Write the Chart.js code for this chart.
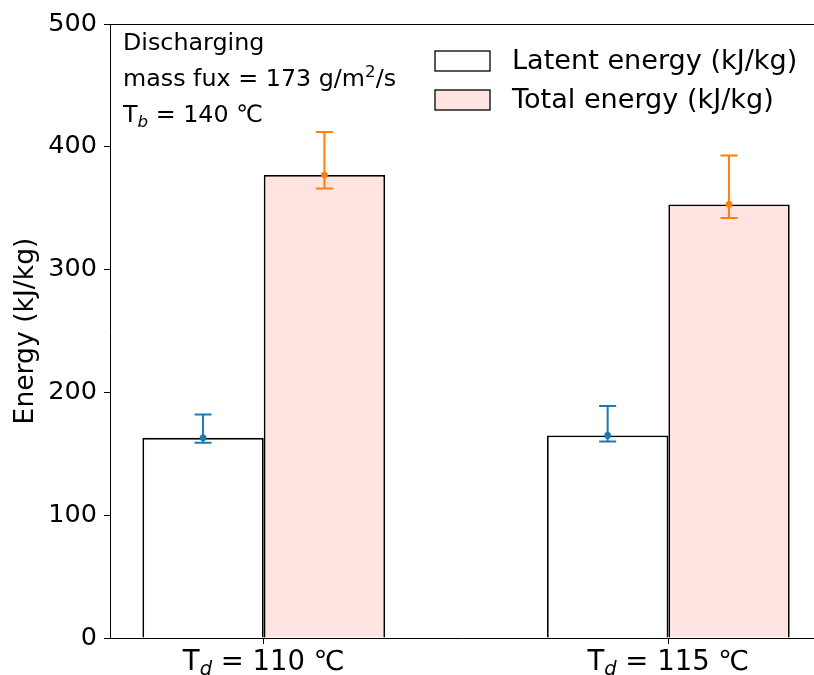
<!DOCTYPE html>
<html>
<head>
<meta charset="utf-8">
<script src="https://cdn.jsdelivr.net/npm/chart.js@4.4.1/dist/chart.umd.min.js"></script>
<style>
  html, body { margin: 0; padding: 0; background: #fff; }
  #wrap { width: 814px; height: 675px; }
</style>
</head>
<body>
<div id="wrap"><canvas id="energyChart" width="814" height="675"></canvas></div>
<script>
// discharge temperatures T_d (°C), one bar group each
const tempValues = [110, 115];
const tempLabels = ['110 \u2103', '115 \u2103'];

// latent energy, kJ/kg, with error bar limits
const latentEnergy = [163, 165];
const latentLow = [159, 160];
const latentHigh = [182, 189];

// total energy, kJ/kg, with error bar limits
const totalEnergy = [377, 353];
const totalLow = [366, 342];
const totalHigh = [412, 393];

const yTicks = [0, 100, 200, 300, 400, 500];

const FONT = '"DejaVu Sans", sans-serif';

function points(values) {
    return values.map((v, i) => ({ x: i, y: v }));
}

// draw a run of text pieces (normal / subscript / superscript) from x, baseline y
function drawRuns(ctx, runs, x, y, align) {
    let total = 0;
    runs.forEach(r => {
        ctx.font = r.font;
        r.w = ctx.measureText(r.t).width;
        total += r.w;
    });
    let cx = align === 'center' ? x - total / 2 : x;
    ctx.textAlign = 'left';
    ctx.textBaseline = 'alphabetic';
    runs.forEach(r => {
        ctx.font = r.font;
        ctx.fillText(r.t, cx, y + (r.dy || 0));
        cx += r.w;
    });
}

// error bars with caps and centre dot
const errorBars = {
    id: 'errorBars',
    afterDatasetsDraw(chart) {
        const ctx = chart.ctx;
        const yScale = chart.scales.y;
        chart.data.datasets.forEach((ds, i) => {
            const meta = chart.getDatasetMeta(i);
            meta.data.forEach((bar, j) => {
                const x = bar.x;
                const yLo = yScale.getPixelForValue(ds.errLow[j]);
                const yHi = yScale.getPixelForValue(ds.errHigh[j]);
                ctx.save();
                ctx.strokeStyle = ds.errColor;
                ctx.fillStyle = ds.errColor;
                ctx.lineWidth = 2;
                ctx.beginPath();
                ctx.moveTo(x, yLo);
                ctx.lineTo(x, yHi);
                ctx.moveTo(x - 8.5, yLo);
                ctx.lineTo(x + 8.5, yLo);
                ctx.moveTo(x - 8.5, yHi);
                ctx.lineTo(x + 8.5, yHi);
                ctx.stroke();
                ctx.beginPath();
                ctx.arc(x, bar.y, 3.4, 0, Math.PI * 2);
                ctx.fill();
                ctx.restore();
            });
        });
    }
};

// top spine, axis texts, legend and the run conditions
const decorations = {
    id: 'decorations',
    afterDraw(chart) {
        const ctx = chart.ctx;
        const area = chart.chartArea;
        const xScale = chart.scales.x;
        ctx.save();
        ctx.strokeStyle = '#000';
        ctx.lineWidth = 1;
        ctx.beginPath();
        ctx.moveTo(area.left, area.top + 0.5);
        ctx.lineTo(area.right, area.top + 0.5);
        ctx.stroke();

        ctx.fillStyle = '#000';
        // x tick labels
        tempLabels.forEach((lab, i) => {
            const px = xScale.getPixelForValue(i);
            drawRuns(ctx, [
                { t: 'T', font: '27.5px ' + FONT },
                { t: 'd', font: 'italic 19.5px ' + FONT, dy: 5 },
                { t: ' = ' + lab, font: '27.5px ' + FONT }
            ], px, 670, 'center');
        });

        // y axis title
        ctx.save();
        ctx.translate(33, (area.top + area.bottom) / 2);
        ctx.rotate(-Math.PI / 2);
        ctx.font = '26.6px ' + FONT;
        ctx.textAlign = 'center';
        ctx.textBaseline = 'alphabetic';
        ctx.fillText('Energy (kJ/kg)', 0, 0);
        ctx.restore();

        // run conditions
        const f = '23.8px ' + FONT;
        drawRuns(ctx, [{ t: 'Discharging', font: f }], 123, 50);
        drawRuns(ctx, [
            { t: 'mass fux = 173 g/m', font: f },
            { t: '2', font: '16.7px ' + FONT, dy: -9 },
            { t: '/s', font: f }
        ], 123, 86);
        drawRuns(ctx, [
            { t: 'T', font: f },
            { t: 'b', font: 'italic 16.7px ' + FONT, dy: 5 },
            { t: ' = 140 \u2103', font: f }
        ], 123, 122);

        // legend
        chart.data.datasets.forEach((ds, i) => {
            const cy = 61 + i * 39;
            ctx.fillStyle = ds.backgroundColor;
            ctx.fillRect(435, cy - 10, 55, 20);
            ctx.strokeStyle = '#000';
            ctx.lineWidth = 1.3;
            ctx.strokeRect(435, cy - 10, 55, 20);
            ctx.fillStyle = '#000';
            ctx.font = '27.1px ' + FONT;
            ctx.textAlign = 'left';
            ctx.textBaseline = 'middle';
            ctx.fillText(ds.label, 512, cy + 1);
        });
        ctx.restore();
    }
};

new Chart(document.getElementById('energyChart'), {
    type: 'bar',
    data: {
        datasets: [
            {
                label: 'Latent energy (kJ/kg)',
                data: points(latentEnergy),
                errLow: latentLow,
                errHigh: latentHigh,
                errColor: '#1f77b4',
                backgroundColor: '#ffffff',
                borderColor: '#000000',
                borderWidth: 1.8
            },
            {
                label: 'Total energy (kJ/kg)',
                data: points(totalEnergy),
                errLow: totalLow,
                errHigh: totalHigh,
                errColor: '#ff7f0e',
                backgroundColor: '#ffe4e1',
                borderColor: '#000000',
                borderWidth: 1.8
            }
        ]
    },
    options: {
        responsive: false,
        animation: false,
        layout: { padding: { left: 0, top: 24, right: 0, bottom: 0 } },
        datasets: {
            bar: { categoryPercentage: 0.6, barPercentage: 1.0 }
        },
        plugins: {
            legend: { display: false },
            tooltip: { enabled: false }
        },
        scales: {
            x: {
                type: 'linear',
                min: -0.38,
                max: 1.36,
                offset: false,
                afterBuildTicks: scale => {
                    scale.ticks = tempValues.map((t, i) => ({ value: i }));
                },
                afterFit: scale => { scale.height = 37; },
                ticks: { display: false },
                grid: {
                    offset: false,
                    drawOnChartArea: false,
                    drawTicks: true,
                    tickLength: 6,
                    tickColor: '#000',
                    tickWidth: 1
                },
                border: { display: true, color: '#000', width: 1 }
            },
            y: {
                min: 0,
                max: 500,
                afterBuildTicks: scale => {
                    scale.ticks = yTicks.map(v => ({ value: v }));
                },
                afterFit: scale => { scale.width = 110; },
                ticks: {
                    color: '#000',
                    padding: 7,
                    font: { family: FONT, size: 25.5 }
                },
                grid: {
                    drawOnChartArea: false,
                    drawTicks: true,
                    tickLength: 6,
                    tickColor: '#000',
                    tickWidth: 1
                },
                border: { display: true, color: '#000', width: 1 }
            }
        }
    },
    plugins: [errorBars, decorations]
});
</script>
</body>
</html>
